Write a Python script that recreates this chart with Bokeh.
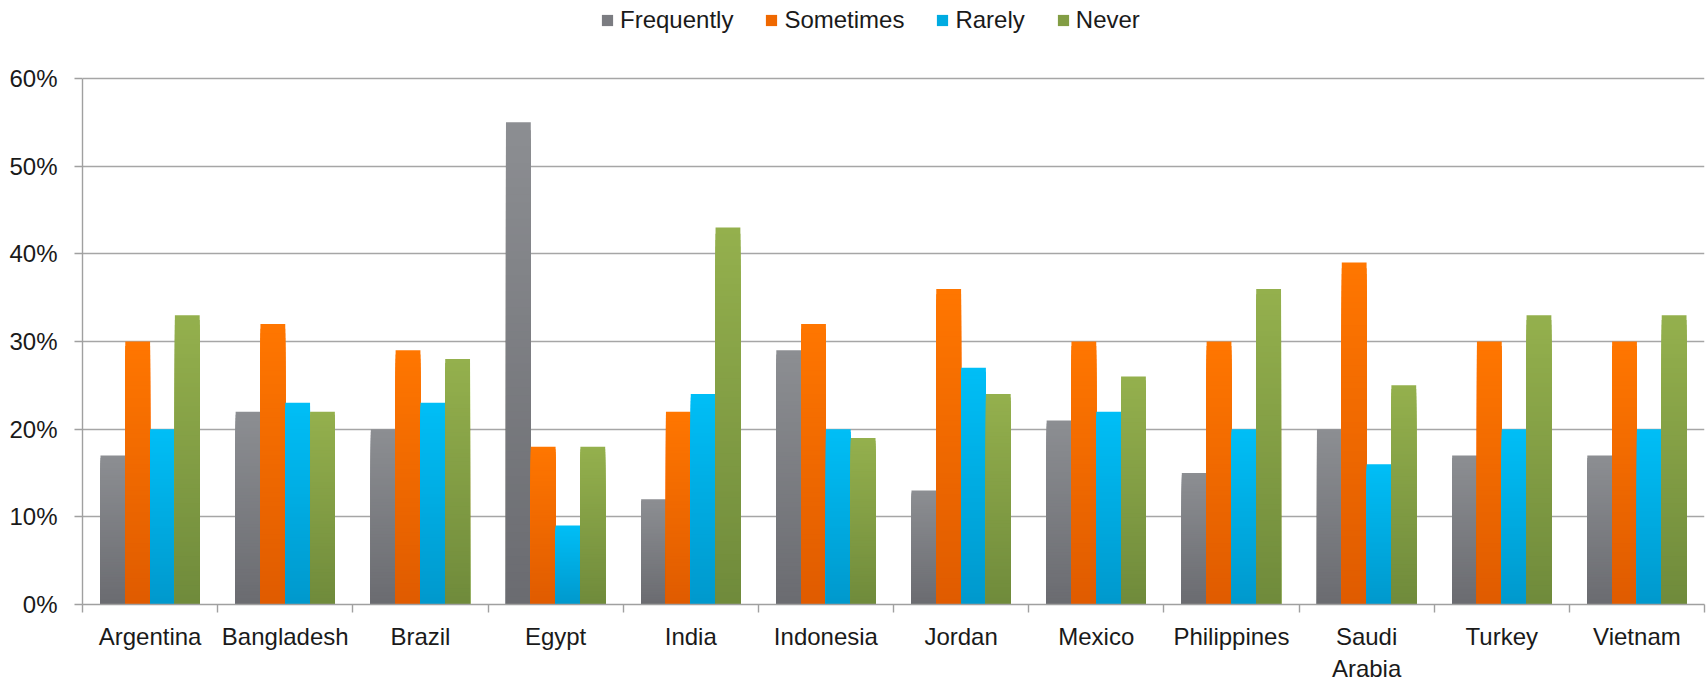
from bokeh.plotting import figure
from bokeh.models import (Range1d, FixedTicker, NumeralTickFormatter, ColumnDataSource,
                          Legend, LegendItem)
from bokeh.embed import file_html
from bokeh.resources import INLINE

countries = ["Argentina", "Bangladesh", "Brazil", "Egypt", "India", "Indonesia",
             "Jordan", "Mexico", "Philippines", "Saudi Arabia", "Turkey", "Vietnam"]
series = ["Frequently", "Sometimes", "Rarely", "Never"]
frequently = [0.17, 0.22, 0.20, 0.55, 0.12, 0.29, 0.13, 0.21, 0.15, 0.20, 0.17, 0.17]
sometimes = [0.30, 0.32, 0.29, 0.18, 0.22, 0.32, 0.36, 0.30, 0.30, 0.39, 0.30, 0.30]
rarely = [0.20, 0.23, 0.23, 0.09, 0.24, 0.20, 0.27, 0.22, 0.20, 0.16, 0.20, 0.20]
never = [0.33, 0.22, 0.28, 0.18, 0.43, 0.19, 0.24, 0.26, 0.36, 0.25, 0.33, 0.33]
y_ticks = [0, 0.1, 0.2, 0.3, 0.4, 0.5, 0.6]

# gradient colours (bottom, top) per series
bottom_colors = ["#6a6b70", "#df5b00", "#0098cc", "#6f8a3b"]
top_colors = ["#8c8e92", "#ff7600", "#00bef6", "#94b04d"]

FONT = "Liberation Sans"
FS = "24px"
N = 60
BW = 0.1835

# layout (pixels)
W, H = 1707, 684
LEFT, RIGHT, BOTTOM = 82, 3, 80
PLOT_TOP = 78            # pixel row of the top gridline
frame_h = H - BOTTOM     # frame spans the whole height above the x axis
y_max = y_ticks[-1]
y_end = y_max * frame_h / (frame_h - PLOT_TOP)

def hex2rgb(h):
    h = h.lstrip("#")
    return tuple(int(h[i:i + 2], 16) for i in (0, 2, 4))

def mix(c1, c2, t):
    a, b = hex2rgb(c1), hex2rgb(c2)
    return "#%02x%02x%02x" % tuple(round(a[i] + (b[i] - a[i]) * t) for i in range(3))

p = figure(width=W, height=H, x_range=Range1d(0, 12), y_range=Range1d(0, y_end),
           output_backend="svg", toolbar_location=None,
           min_border_left=LEFT, min_border_right=RIGHT, min_border_top=0,
           min_border_bottom=BOTTOM)
p.outline_line_color = None
p.xgrid.grid_line_color = None
p.ygrid.grid_line_color = "#a6a6a6"
p.ygrid.grid_line_width = 1.4
p.background_fill_color = "white"

renderers = []
all_vals = [frequently, sometimes, rarely, never]
for s, vals in enumerate(all_vals):
    xs, tops, cols = [], [], []
    off = (s - 1.5) * BW
    # overlapping layers: tallest (top colour) first, shorter darker layers on top
    for k in range(N):
        frac = (N - k) / N
        c = mix(bottom_colors[s], top_colors[s], frac)
        for i, v in enumerate(vals):
            xs.append(i + 0.5 + off)
            tops.append(v * frac)
            cols.append(c)
    src = ColumnDataSource(dict(x=xs, top=tops, color=cols))
    r = p.vbar(x="x", bottom=0, top="top", width=BW, source=src,
               fill_color="color", line_color=None)
    renderers.append(r)

# axes
p.yaxis.ticker = FixedTicker(ticks=y_ticks, minor_ticks=[])
p.yaxis.bounds = (0, y_max)
p.yaxis.formatter = NumeralTickFormatter(format="0%")
p.yaxis.axis_line_color = "#a0a0a0"
p.yaxis.axis_line_width = 1.4
p.yaxis.major_tick_line_color = "#a0a0a0"
p.yaxis.major_tick_line_width = 1.4
p.yaxis.major_tick_out = 8
p.yaxis.major_tick_in = 0
p.yaxis.major_label_standoff = 17
p.yaxis.major_label_text_font = FONT
p.yaxis.major_label_text_font_size = FS
p.yaxis.major_label_text_color = "#1a1a1a"

centers = [i + 0.5 for i in range(len(countries))]
p.xaxis.ticker = FixedTicker(ticks=centers, minor_ticks=list(range(len(countries) + 1)))
p.xaxis.major_label_overrides = {c: n.replace("Saudi Arabia", "Saudi\nArabia")
                                 for c, n in zip(centers, countries)}
p.xaxis.major_tick_line_color = None
p.xaxis.major_tick_out = 0
p.xaxis.major_tick_in = 0
p.xaxis.minor_tick_line_color = "#a0a0a0"
p.xaxis.minor_tick_line_width = 1.4
p.xaxis.minor_tick_out = 8
p.xaxis.minor_tick_in = 0
p.xaxis.axis_line_color = "#a0a0a0"
p.xaxis.axis_line_width = 1.4
p.xaxis.major_label_standoff = 10
p.xaxis.major_label_text_font = FONT
p.xaxis.major_label_text_font_size = FS
p.xaxis.major_label_text_color = "#1a1a1a"

items = [LegendItem(label=series[s], renderers=[renderers[s]], index=(N // 2) * 12)
         for s in range(4)]
legend = Legend(items=items, orientation="horizontal", location=(518, frame_h - 34),
                border_line_color=None, background_fill_alpha=0, padding=0, margin=0,
                spacing=31, label_standoff=6, glyph_width=14, glyph_height=14,
                label_text_font=FONT, label_text_font_size=FS, label_height=24,
                label_text_color="#1a1a1a")
p.add_layout(legend, "center")

open("out.html", "w").write(file_html(p, INLINE))
